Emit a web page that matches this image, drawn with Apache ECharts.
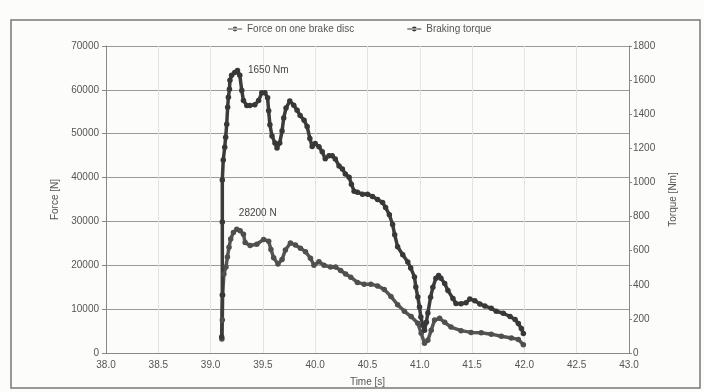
<!DOCTYPE html>
<html>
<head>
<meta charset="utf-8">
<script src="https://cdn.jsdelivr.net/npm/echarts@6/dist/echarts.min.js"></script>
<style>
  html, body { margin: 0; padding: 0; background: #fcfcfa; }
  #box { width: 704px; height: 392px; }
</style>
</head>
<body>
<div id="box"></div>
<script>
// time [s] / force [N]
var forceTime = [39.108, 39.112, 39.115, 39.127, 39.147, 39.161, 39.176, 39.192, 39.218, 39.250,
  39.282, 39.314, 39.330, 39.378, 39.442, 39.507, 39.555, 39.577, 39.603, 39.644,
  39.683, 39.715, 39.763, 39.811, 39.859, 39.907, 39.955, 39.988, 40.036, 40.084,
  40.147, 40.195, 40.243, 40.291, 40.340, 40.404, 40.468, 40.532, 40.596, 40.660,
  40.724, 40.788, 40.853, 40.917, 40.981, 41.013, 41.045, 41.077, 41.109, 41.141,
  41.189, 41.238, 41.298, 41.394, 41.490, 41.587, 41.683, 41.779, 41.875, 41.942, 41.990];
var forceVal = [3200, 7500, 13200, 18000, 19600, 21900, 24100, 26000, 27500, 28200,
  27900, 27100, 25200, 24500, 24800, 25900, 25500, 23600, 21700, 20300,
  21300, 23500, 25100, 24600, 23900, 23100, 21600, 20000, 20800, 20000,
  19600, 19600, 18800, 18000, 17300, 16100, 15700, 15700, 15300, 14500,
  12900, 11000, 9500, 8300, 6800, 4500, 2200, 2900, 5200, 7500,
  7900, 7000, 5900, 5100, 4700, 4600, 4300, 3800, 3400, 3100, 1900];

// time [s] / braking torque [Nm]
var torqueTime = [39.106, 39.112, 39.112, 39.112, 39.121, 39.135, 39.144, 39.154, 39.163, 39.170,
  39.180, 39.185, 39.201, 39.231, 39.257, 39.279, 39.298, 39.314, 39.346, 39.375,
  39.423, 39.459, 39.490, 39.519, 39.545, 39.555, 39.567, 39.587, 39.615, 39.635,
  39.661, 39.683, 39.699, 39.721, 39.757, 39.795, 39.827, 39.856, 39.894, 39.923,
  39.949, 39.971, 40.000, 40.036, 40.067, 40.096, 40.132, 40.163, 40.192, 40.228,
  40.260, 40.288, 40.324, 40.346, 40.372, 40.404, 40.452, 40.500, 40.548, 40.596,
  40.644, 40.673, 40.709, 40.740, 40.760, 40.788, 40.837, 40.885, 40.913, 40.949,
  40.962, 40.981, 40.997, 41.010, 41.029, 41.045, 41.063, 41.077, 41.103, 41.125,
  41.154, 41.180, 41.202, 41.238, 41.269, 41.317, 41.346, 41.394, 41.442, 41.478,
  41.526, 41.574, 41.622, 41.683, 41.731, 41.798, 41.863, 41.911, 41.942, 41.971, 41.990];
var torqueVal = [94, 340, 768, 1014, 1131, 1207, 1265, 1341, 1441, 1499,
  1546, 1599, 1628, 1645, 1657, 1628, 1539, 1481, 1451, 1451,
  1456, 1480, 1526, 1526, 1496, 1420, 1338, 1273, 1232, 1202,
  1232, 1301, 1378, 1436, 1477, 1453, 1423, 1393, 1364, 1328,
  1258, 1211, 1228, 1210, 1180, 1139, 1156, 1156, 1138, 1097,
  1079, 1050, 1031, 990, 949, 943, 931, 931, 918, 900,
  882, 853, 811, 753, 694, 623, 576, 534, 499, 446,
  387, 328, 269, 211, 163, 134, 181, 234, 327, 385,
  438, 455, 438, 408, 367, 319, 290, 289, 295, 317,
  306, 288, 275, 263, 245, 233, 214, 196, 173, 143, 114];

var forceTicks = [0, 10000, 20000, 30000, 40000, 50000, 60000, 70000];
var torqueTicks = [0, 200, 400, 600, 800, 1000, 1200, 1400, 1600, 1800];

function pairs(xs, ys) {
  var out = [];
  for (var i = 0; i < xs.length; i++) out.push([xs[i], ys[i]]);
  return out;
}

var myChart = echarts.init(document.getElementById('box'));
var txt = { fontFamily: 'Liberation Sans', fontSize: 10, color: '#555' };
// legend marker: short line with a dot
var lineDot = 'path://M0,4.4h20v1.2h-20z M6.5,5a3.5,3.5 0 1,0 7,0a3.5,3.5 0 1,0 -7,0z';

var option = {
  backgroundColor: '#fcfcfa',
  animation: false,
  textStyle: { fontFamily: 'Liberation Sans' },
  graphic: [{
    type: 'rect',
    shape: { x: 11, y: 20, width: 689, height: 368 },
    style: { fill: 'none', stroke: '#777', lineWidth: 1.5 }
  }],
  legend: {
    left: 223, top: 19,
    itemWidth: 14, itemHeight: 7, itemGap: 53,
    textStyle: txt,
    data: [
      { name: 'Force on one brake disc', icon: lineDot, itemStyle: { color: '#555' } },
      { name: 'Braking torque', icon: lineDot, itemStyle: { color: '#333' } }
    ]
  },
  grid: { left: 106, right: 75, top: 46, bottom: 38 },
  xAxis: {
    type: 'value', min: 38, max: 43, interval: 0.5,
    name: 'Time [s]', nameLocation: 'middle', nameGap: 24, nameTextStyle: txt,
    axisLine: { lineStyle: { color: '#888' } },
    axisTick: { show: false },
    axisLabel: { color: '#555', fontSize: 10, margin: 7, formatter: function (v) { return v.toFixed(1); } },
    splitLine: { show: true, lineStyle: { color: '#e4e4e2', width: 1 } }
  },
  yAxis: [{
    type: 'value', min: forceTicks[0], max: forceTicks[forceTicks.length - 1], interval: 10000,
    name: 'Force [N]', nameLocation: 'middle', nameRotate: 90, nameGap: 45, nameTextStyle: txt,
    axisLine: { show: true, lineStyle: { color: '#888' } },
    axisTick: { show: true, length: 4, lineStyle: { color: '#888' } },
    axisLabel: { color: '#555', fontSize: 10, margin: 7, formatter: function (v) { return String(v); } },
    splitLine: { show: true, lineStyle: { color: '#9a9a9a', width: 1 } }
  }, {
    type: 'value', min: torqueTicks[0], max: torqueTicks[torqueTicks.length - 1], interval: 200,
    position: 'right',
    name: 'Torque [Nm]', nameLocation: 'middle', nameRotate: 90, nameGap: 39, nameTextStyle: txt,
    axisLine: { show: true, lineStyle: { color: '#888' } },
    axisTick: { show: true, length: 3, lineStyle: { color: '#888' } },
    axisLabel: { color: '#555', fontSize: 10, margin: 4, formatter: function (v) { return String(v); } },
    splitLine: { show: false }
  }],
  series: [{
    name: 'Force on one brake disc',
    type: 'line',
    yAxisIndex: 0,
    data: pairs(forceTime, forceVal),
    symbol: 'circle', symbolSize: 5.5, showAllSymbol: true,
    itemStyle: { color: '#4f4f4f' },
    lineStyle: { color: '#555', width: 3.5 },
    markPoint: {
      symbol: 'circle', symbolSize: 1,
      itemStyle: { color: 'rgba(0,0,0,0)' },
      label: { show: true, position: 'top', offset: [21, -6], color: '#444', fontSize: 10, formatter: '28200 N' },
      data: [{ coord: [39.25, 28200] }]
    }
  }, {
    name: 'Braking torque',
    type: 'line',
    yAxisIndex: 1,
    data: pairs(torqueTime, torqueVal),
    symbol: 'circle', symbolSize: 5.5, showAllSymbol: true,
    itemStyle: { color: '#383838' },
    lineStyle: { color: '#3c3c3c', width: 3.5 },
    markPoint: {
      symbol: 'circle', symbolSize: 1,
      itemStyle: { color: 'rgba(0,0,0,0)' },
      label: { show: true, position: 'right', distance: 10, color: '#444', fontSize: 10, formatter: '1650 Nm' },
      data: [{ coord: [39.257, 1657] }]
    }
  }]
};

myChart.setOption(option);
</script>
</body>
</html>
